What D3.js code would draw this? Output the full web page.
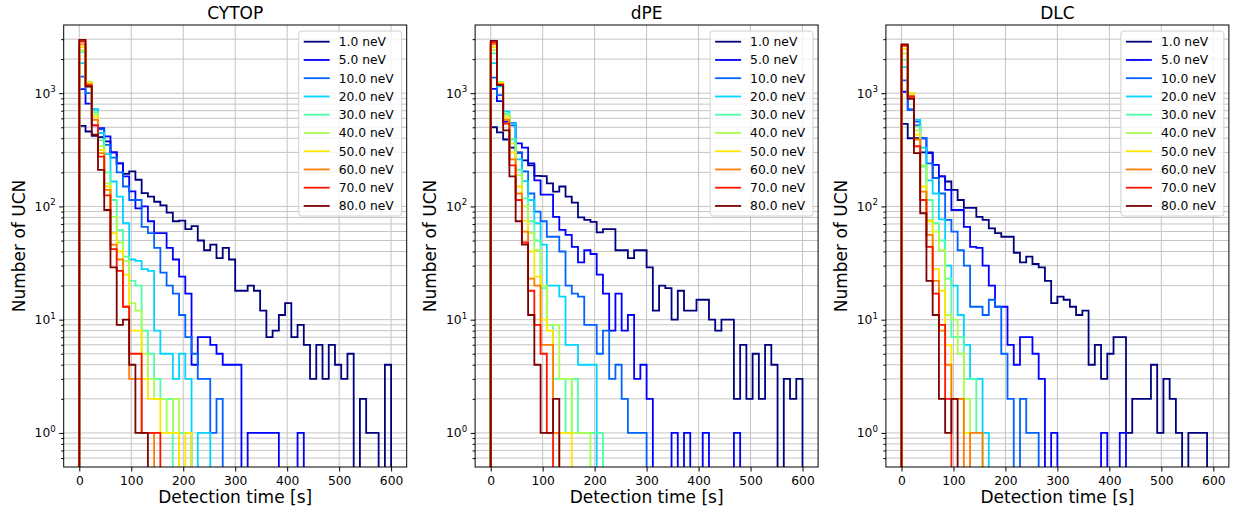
<!DOCTYPE html>
<html lang="en">
<head>
<meta charset="UTF-8">
<title>UCN detection time</title>
<script src="https://d3js.org/d3.v7.min.js"></script>
<style>
  body { margin: 0; background: #fff; }
  text { font-family: "DejaVu Sans", sans-serif; fill: #000; }
</style>
</head>
<body>
<script>

// energies and jet colours
var energyLabels = ["1.0 neV", "5.0 neV", "10.0 neV", "20.0 neV", "30.0 neV",
                    "40.0 neV", "50.0 neV", "60.0 neV", "70.0 neV", "80.0 neV"];
var lineColors = ["#00007f", "#0000ff", "#0063ff", "#00d4ff", "#4dffa9",
                  "#a9ff4d", "#ffe600", "#ff7d00", "#ff1400", "#7f0000"];
var panelTitles = ["CYTOP", "dPE", "DLC"];
var binWidth = 12;   // seconds, 50 bins from 0 to 600 s
var nBins = 50;
var xTicks = [0, 100, 200, 300, 400, 500, 600];
var yTicks = [1, 10, 100, 1000];

// counts per 12 s bin, one row per energy (bins after the last value are empty)
var cytopCounts = [
  [515, 459, 420, 410, 375, 300, 240, 194, 204, 172, 131, 122, 110, 102, 88, 74, 75, 63, 67, 50, 41, 46, 35, 43, 34, 18, 18, 20, 18, 12, 7, 8, 11, 14, 7, 9, 6, 3, 6, 3, 6, 4, 3, 5, 0, 2, 1, 1, 0, 4],
  [1085, 810, 520, 490, 415, 300, 240, 184, 136, 96, 100, 74, 58, 58, 43, 34, 24, 17, 4, 7, 7, 6, 5, 4, 4, 4, 0, 1, 1, 1, 1, 1, 0, 0, 0, 1],
  [1400, 1000, 720, 480, 350, 270, 200, 150, 114, 114, 66, 58, 43, 26, 20, 17, 11, 7, 5, 3, 3, 1, 2],
  [1840, 1150, 720, 445, 290, 166, 122, 71, 34, 33, 28, 27, 8, 5, 5, 3, 5, 3, 0, 1, 1],
  [2300, 1250, 680, 385, 200, 114, 62, 36, 22, 20, 8, 5, 3, 2, 2, 0, 1, 1],
  [2400, 1260, 650, 340, 160, 81, 48, 33, 14, 12, 5, 3, 2, 2, 1, 2],
  [2550, 1230, 620, 315, 150, 58, 40, 25, 8, 8, 3, 2, 2, 1, 1, 1, 0, 1],
  [2700, 1200, 580, 295, 140, 46, 34, 13, 3, 3, 1, 1],
  [2850, 1170, 520, 275, 125, 42, 27, 13, 5, 5, 1, 1, 1],
  [2960, 1145, 430, 210, 93, 29, 9, 10, 4, 1, 1]
];

var dpeCounts = [
  [500, 450, 390, 330, 300, 255, 230, 186, 185, 160, 135, 150, 122, 108, 80, 76, 73, 59, 63, 63, 41, 41, 35, 41, 41, 29, 12, 20, 19, 10, 18, 12, 12, 15, 15, 10, 8, 10, 10, 2, 6, 2, 5, 2, 6, 4, 0, 3, 2, 3],
  [1090, 850, 560, 543, 360, 330, 240, 170, 127, 127, 81, 62, 56, 44, 32, 41, 38, 25, 17, 8, 17, 8, 11, 3, 4, 2, 0, 0, 0, 1, 0, 1, 0, 0, 1, 0, 0, 0, 0, 1],
  [1370, 960, 640, 520, 295, 204, 130, 90, 74, 54, 54, 40, 20, 17, 16, 9, 9, 5, 8, 3, 4, 2, 1, 1, 1],
  [1840, 1150, 690, 540, 260, 167, 114, 71, 46, 20, 20, 16, 6, 6, 4, 4, 4],
  [2250, 1250, 660, 390, 210, 118, 74, 50, 19, 9, 3, 3, 1, 3, 1, 1, 1, 1],
  [2400, 1260, 640, 360, 190, 100, 58, 41, 20, 9, 9, 3, 3, 1, 1, 1],
  [2550, 1230, 610, 300, 150, 75, 40, 24, 10, 8, 1, 1, 1],
  [2700, 1200, 580, 260, 130, 60, 23, 20, 6, 6, 1],
  [2800, 1190, 540, 230, 114, 48, 18, 9, 5, 1],
  [2900, 1180, 470, 184, 74, 46, 11, 4, 1, 1, 2]
];

var dlcCounts = [
  [535, 400, 400, 300, 300, 178, 184, 166, 140, 114, 97, 97, 81, 76, 64, 58, 54, 54, 39, 32, 36, 31, 29, 22, 14, 16, 15, 13, 11, 12, 4, 6, 3, 5, 7, 7, 1, 2, 2, 2, 4, 1, 3, 2, 1, 0, 1, 1, 1, 0],
  [1030, 720, 520, 400, 295, 233, 184, 140, 93, 93, 66, 44, 43, 30, 20, 13, 13, 6, 4, 7, 7, 5, 3, 0, 1, 0, 0, 0, 0, 0, 0, 0, 1, 0, 0, 1],
  [1300, 710, 560, 400, 240, 178, 130, 76, 60, 41, 30, 13, 13, 11, 15, 13, 5, 2, 0, 2, 1, 1],
  [1700, 930, 580, 330, 170, 130, 77, 30, 20, 11, 6, 3, 3, 1],
  [1970, 950, 510, 225, 114, 71, 50, 23, 7, 7, 3, 3, 1],
  [2240, 1000, 470, 230, 76, 60, 41, 11, 10, 5, 2],
  [2450, 1000, 430, 150, 74, 28, 18, 6, 2, 2, 1],
  [2600, 950, 390, 135, 56, 22, 8, 4, 2, 2, 0, 1, 1],
  [2650, 930, 340, 114, 44, 17, 9, 2],
  [2700, 890, 295, 87, 22, 11, 2, 1, 2]
];

var panels = [cytopCounts, dpeCounts, dlcCounts];

var svg = d3.select("body").append("svg").attr("width", 1233).attr("height", 517);

var panelLefts = [63.7, 475.1, 885.9];
var plotTop = 25, pw = 343, ph = 442;

var x = d3.scaleLinear().domain([-30, 630]).range([0, pw]);
var y = d3.scaleLog().domain([0.5, 4000]).range([ph, 0]);

// minor + major y grid values
var yGrid = [];
for (var k = -1; k <= 3; k++) {
  for (var m = 1; m <= 9; m++) {
    var v = m * Math.pow(10, k);
    if (v > 0.5 && v < 4000) yGrid.push(v);
  }
}
var yMinor = yGrid.filter(function (v) { return yTicks.indexOf(v) < 0; });

var line = d3.line()
  .x(function (d) { return x(d[0]); })
  .y(function (d) { return d[1] > 0 ? y(d[1]) : ph + 20; });

panels.forEach(function (counts, p) {
  var g = svg.append("g").attr("transform", "translate(" + panelLefts[p] + "," + plotTop + ")");

  g.append("clipPath").attr("id", "clip" + p)
    .append("rect").attr("width", pw).attr("height", ph);

  // grid
  g.selectAll(".hg").data(yGrid).enter().append("line")
    .attr("x1", 0).attr("x2", pw)
    .attr("y1", function (d) { return y(d); }).attr("y2", function (d) { return y(d); })
    .attr("stroke", "#c4c4c4").attr("stroke-width", 1);
  g.selectAll(".vg").data(xTicks).enter().append("line")
    .attr("y1", 0).attr("y2", ph)
    .attr("x1", function (d) { return x(d); }).attr("x2", function (d) { return x(d); })
    .attr("stroke", "#c4c4c4").attr("stroke-width", 1);

  // step histograms
  var hist = g.append("g").attr("clip-path", "url(#clip" + p + ")");
  counts.forEach(function (vals, s) {
    var pts = [[0, 0]];
    for (var i = 0; i < nBins; i++) {
      var c = i < vals.length ? vals[i] : 0;
      pts.push([i * binWidth, c]);
      pts.push([(i + 1) * binWidth, c]);
    }
    pts.push([nBins * binWidth, 0]);
    hist.append("path")
      .attr("d", line(pts))
      .attr("fill", "none")
      .attr("stroke", lineColors[s])
      .attr("stroke-width", 1.8)
      .attr("stroke-linejoin", "miter");
  });

  // frame
  g.append("rect").attr("width", pw).attr("height", ph)
    .attr("fill", "none").attr("stroke", "#000").attr("stroke-width", 1);

  // x axis
  var xa = g.append("g").attr("transform", "translate(0," + ph + ")")
    .call(d3.axisBottom(x).tickValues(xTicks).tickSize(4.5).tickPadding(5).tickFormat(d3.format("d")));
  xa.select(".domain").remove();
  xa.selectAll("text").style("font-size", "12.3px").style("font-family", "DejaVu Sans");

  // y axis: major and minor ticks
  var ya = g.append("g").call(d3.axisLeft(y).tickValues(yTicks).tickSize(4.5).tickFormat(""));
  ya.select(".domain").remove();
  var ym = g.append("g").call(d3.axisLeft(y).tickValues(yMinor).tickSize(2.5).tickFormat(""));
  ym.select(".domain").remove();

  yTicks.forEach(function (t) {
    var lab = g.append("text")
      .attr("x", -8).attr("y", y(t) + 4.5)
      .attr("text-anchor", "end")
      .style("font-size", "12.3px");
    lab.append("tspan").text("10");
    lab.append("tspan").attr("dy", -5.5).style("font-size", "8.6px").text(String(Math.round(Math.log10(t))));
  });

  // labels
  g.append("text").attr("x", pw / 2).attr("y", -6)
    .attr("text-anchor", "middle").style("font-size", "17px").text(panelTitles[p]);
  g.append("text").attr("x", pw / 2).attr("y", 503 - plotTop)
    .attr("text-anchor", "middle").style("font-size", "17px").text("Detection time [s]");
  g.append("text")
    .attr("transform", "translate(" + (25 - 63.7) + "," + (246 - plotTop) + ") rotate(-90)")
    .attr("text-anchor", "middle").style("font-size", "17px").text("Number of UCN");

  // legend
  var lw = 103, lh = 185;
  var lg = g.append("g").attr("transform", "translate(" + (pw - 5 - lw) + ",6)");
  lg.append("rect").attr("width", lw).attr("height", lh).attr("rx", 3)
    .attr("fill", "#fff").attr("fill-opacity", 0.8)
    .attr("stroke", "#d0d0d0").attr("stroke-width", 1);
  energyLabels.forEach(function (lab, s) {
    var ry = 10.7 + s * 18.25;
    lg.append("line").attr("x1", 5).attr("x2", 31).attr("y1", ry).attr("y2", ry)
      .attr("stroke", lineColors[s]).attr("stroke-width", 1.8);
    lg.append("text").attr("x", 40).attr("y", ry + 4.4)
      .style("font-size", "12.3px").text(lab);
  });
});

</script>
</body>
</html>
